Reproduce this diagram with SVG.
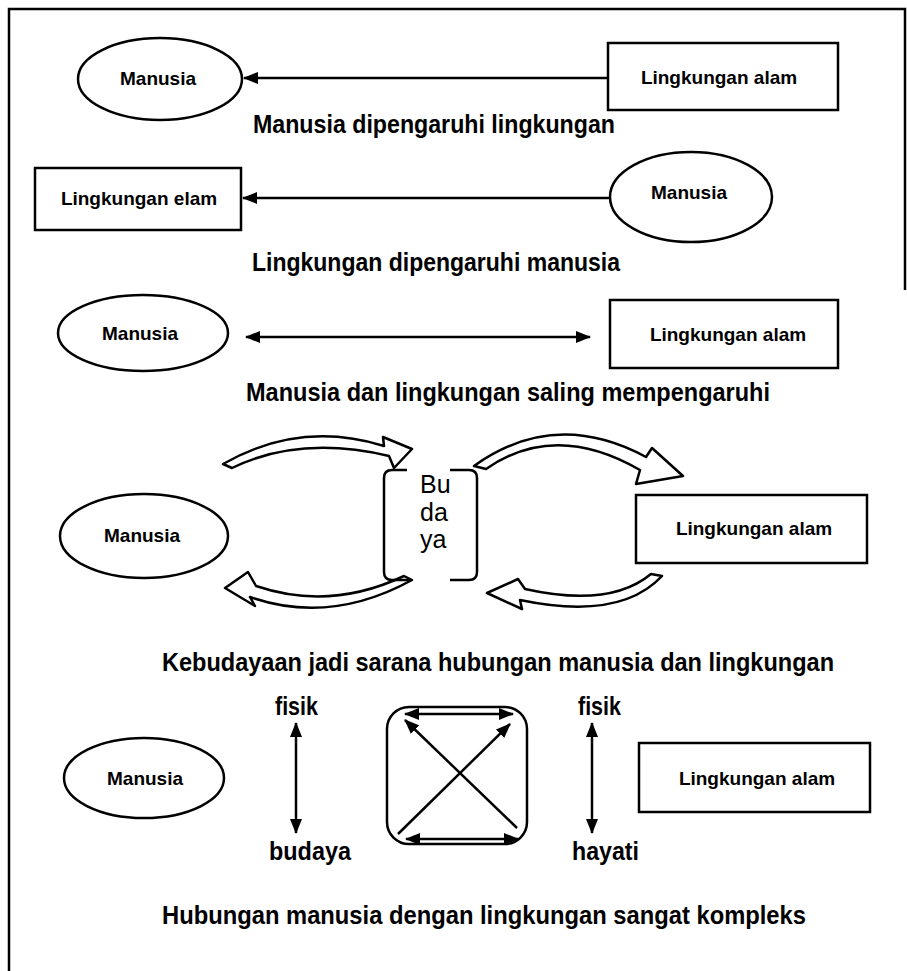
<svg xmlns="http://www.w3.org/2000/svg" width="907" height="971" viewBox="0 0 907 971">
<defs>
<style>
.shape{fill:#fff;stroke:#000;stroke-width:2.5}
.lbl{font-family:"Liberation Sans",Arial,sans-serif;font-weight:bold;font-size:19px;fill:#000;text-anchor:middle}
.cap{font-family:"Liberation Sans",Arial,sans-serif;font-weight:bold;font-size:25px;fill:#000}
.bud{font-family:"Liberation Sans",Arial,sans-serif;font-size:25px;fill:#000}
.ln{stroke:#000;stroke-width:2.5;fill:none}
.blk{fill:#fff;stroke:#000;stroke-width:2.5;stroke-linejoin:round}
</style>
<marker id="ah" viewBox="0 0 15 12" refX="14" refY="6" markerWidth="15" markerHeight="12" markerUnits="userSpaceOnUse" orient="auto-start-reverse">
<path d="M0,0 L15,6 L0,12 z" fill="#000"/>
</marker>
</defs>
<rect x="0" y="0" width="907" height="971" fill="#fff"/>
<g id="frame" class="ln">
<path d="M9,971 L9,9 L905,9 L905,290"/>
</g>
<g id="connectors">
<line class="ln" x1="608" y1="78" x2="244" y2="78" marker-end="url(#ah)"/>
<line class="ln" x1="610" y1="198" x2="243" y2="198" marker-end="url(#ah)"/>
<line class="ln" x1="246" y1="337" x2="590" y2="337" marker-start="url(#ah)" marker-end="url(#ah)"/>
<path class="blk" d="M223,464 Q300,420 384,446 L383,437 L412,449 L394,468 L389,456 Q300,435 232,468 Z"/>
<path class="blk" d="M474,466 Q555,408 646,457 L652,448 L683,476 L636,484 L640,470 Q555,421 486,469 Z"/>
<path class="blk" d="M412,580 Q330,625 250,597 L255,606 L225,588 L248,572 L256,586 Q330,611 404,576 Z"/>
<path class="blk" d="M662,576 Q620,621 520,600 L522,609 L487,593 L518,579 L525,589 Q610,608 651,574 Z"/>
<line class="ln" x1="296" y1="723" x2="296" y2="833" marker-start="url(#ah)" marker-end="url(#ah)"/>
<line class="ln" x1="592" y1="723" x2="592" y2="833" marker-start="url(#ah)" marker-end="url(#ah)"/>
<line class="ln" x1="405" y1="714" x2="513" y2="714" marker-start="url(#ah)" marker-end="url(#ah)"/>
<line class="ln" x1="406" y1="839" x2="518" y2="839" marker-start="url(#ah)" marker-end="url(#ah)"/>
<line class="ln" x1="517" y1="828" x2="405" y2="720" marker-end="url(#ah)"/>
<line class="ln" x1="398" y1="834" x2="510" y2="724" marker-end="url(#ah)"/>
</g>
<g id="r1-manusia"><ellipse class="shape" cx="160" cy="79" rx="82" ry="41"/><text class="lbl" x="158" y="85">Manusia</text></g>
<g id="r1-lingkungan"><rect class="shape" x="608" y="43" width="230" height="67"/><text class="lbl" x="719" y="84">Lingkungan alam</text></g>
<text class="cap" x="253" y="133" textLength="362" lengthAdjust="spacingAndGlyphs">Manusia dipengaruhi lingkungan</text>
<g id="r2-lingkungan"><rect class="shape" x="35" y="168" width="206" height="62"/><text class="lbl" x="139" y="205">Lingkungan elam</text></g>
<g id="r2-manusia"><ellipse class="shape" cx="691" cy="197" rx="81" ry="45"/><text class="lbl" x="689" y="199">Manusia</text></g>
<text class="cap" x="252" y="271" textLength="368" lengthAdjust="spacingAndGlyphs">Lingkungan dipengaruhi manusia</text>
<g id="r3-manusia"><ellipse class="shape" cx="143" cy="333" rx="85" ry="38"/><text class="lbl" x="140" y="340">Manusia</text></g>
<g id="r3-lingkungan"><rect class="shape" x="610" y="300" width="228" height="68"/><text class="lbl" x="728" y="341">Lingkungan alam</text></g>
<text class="cap" x="246" y="401" textLength="524" lengthAdjust="spacingAndGlyphs">Manusia dan lingkungan saling mempengaruhi</text>
<g id="r4-manusia"><ellipse class="shape" cx="144" cy="536" rx="84" ry="42"/><text class="lbl" x="142" y="542">Manusia</text></g>
<g id="r4-budaya">
<path class="ln" d="M407,470 L392,470 Q384,470 384,478 L384,572 Q384,580 392,580 L410,580"/>
<path class="ln" d="M450,470 L469,470 Q477,470 477,478 L477,572 Q477,580 469,580 L450,580"/>
<text class="bud" x="420" y="493">Bu</text>
<text class="bud" x="420" y="521">da</text>
<text class="bud" x="420" y="548">ya</text>
</g>
<g id="r4-lingkungan"><rect class="shape" x="636" y="495" width="231" height="68"/><text class="lbl" x="754" y="535">Lingkungan alam</text></g>
<text class="cap" x="162" y="671" textLength="672" lengthAdjust="spacingAndGlyphs">Kebudayaan jadi sarana hubungan manusia dan lingkungan</text>
<g id="r5-manusia"><ellipse class="shape" cx="144" cy="778" rx="80" ry="40"/><text class="lbl" x="145" y="785">Manusia</text></g>
<g id="r5-box"><rect class="ln" x="387" y="707" width="140" height="137" rx="22"/></g>
<text class="cap" x="275" y="715" textLength="43" lengthAdjust="spacingAndGlyphs">fisik</text>
<text class="cap" x="269" y="860" textLength="82" lengthAdjust="spacingAndGlyphs">budaya</text>
<text class="cap" x="578" y="715" textLength="43" lengthAdjust="spacingAndGlyphs">fisik</text>
<text class="cap" x="572" y="860" textLength="67" lengthAdjust="spacingAndGlyphs">hayati</text>
<g id="r5-lingkungan"><rect class="shape" x="639" y="743" width="231" height="69"/><text class="lbl" x="757" y="785">Lingkungan alam</text></g>
<text class="cap" x="162" y="924" textLength="644" lengthAdjust="spacingAndGlyphs">Hubungan manusia dengan lingkungan sangat kompleks</text>
</svg>
